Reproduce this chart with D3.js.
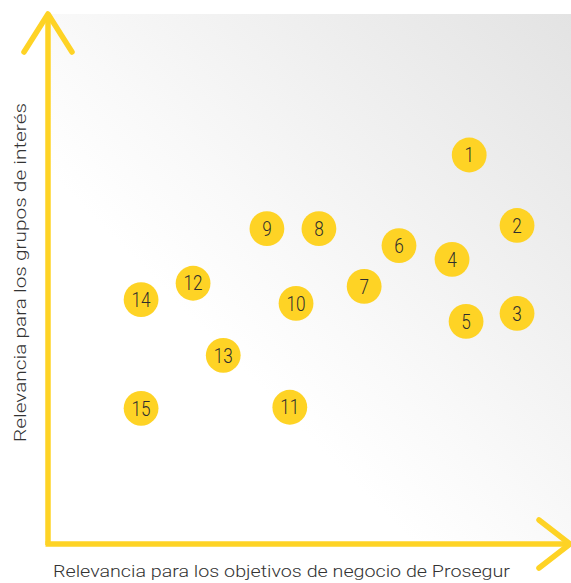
<!DOCTYPE html>
<html>
<head>
<meta charset="utf-8">
<script src="https://cdn.jsdelivr.net/npm/d3@7"></script>
<style>
  html, body { margin: 0; padding: 0; background: #fff; }
  svg { display: block; }
</style>
</head>
<body>
<svg id="chart" width="571" height="583"></svg>
<script>
// Data (values on a 0–10 relevance scale)
const labels = ["1","2","3","4","5","6","7","8","9","10","11","12","13","14","15"];
const businessRelevance = [8.10, 9.02, 9.02, 7.77, 8.04, 6.75, 6.08, 5.21, 4.21, 4.77, 4.65, 2.79, 3.37, 1.79, 1.79];
const stakeholderRelevance = [7.34, 6.01, 4.35, 5.37, 4.20, 5.63, 4.86, 5.95, 5.95, 4.54, 2.58, 4.92, 3.56, 4.61, 2.56];
const xAxisTitle = "Relevancia para los objetivos de negocio de Prosegur";
const yAxisTitle = "Relevancia para los grupos de interés";

(function () {
const svg = d3.select("#chart");
const mLeft = 48, mRight = 568, mTop = 14, mBottom = 544;
const x = d3.scaleLinear().domain([0, 10]).range([mLeft, mRight]);
const y = d3.scaleLinear().domain([0, 10]).range([mBottom, mTop]);

const yellow = "#fed325";

// background gradient
const defs = svg.append("defs");
const grad = defs.append("linearGradient").attr("id", "bg")
  .attr("x1", "100%").attr("y1", "0%").attr("x2", "0%").attr("y2", "100%");
grad.append("stop").attr("offset", "0%").attr("stop-color", "#e3e3e3");
grad.append("stop").attr("offset", "25%").attr("stop-color", "#eeeeee");
grad.append("stop").attr("offset", "50%").attr("stop-color", "#f9f9f9");
grad.append("stop").attr("offset", "65%").attr("stop-color", "#ffffff");
grad.append("stop").attr("offset", "100%").attr("stop-color", "#ffffff");

svg.append("rect")
  .attr("x", mLeft).attr("y", mTop)
  .attr("width", 571 - mLeft).attr("height", mBottom - mTop)
  .attr("fill", "url(#bg)");

// axes (arrows)
const axisG = svg.append("g")
  .attr("stroke", yellow).attr("stroke-width", 5.5).attr("fill", "none")
  .attr("stroke-linecap", "round").attr("stroke-linejoin", "round");
axisG.append("path").attr("d", `M${mLeft},${mBottom + 1} L${mLeft},${mTop}`).attr("stroke-linecap", "butt");
axisG.append("path").attr("d", `M${mLeft - 24},${mTop + 38} L${mLeft},${mTop} L${mLeft + 24},${mTop + 38}`);
axisG.append("path").attr("d", `M${mLeft - 2.5},${mBottom} L570,${mBottom}`).attr("stroke-linecap", "butt");
axisG.append("path").attr("d", `M539,${mBottom - 24} L570,${mBottom} L539,${mBottom + 24}`);

// points
const data = labels.map((l, i) => ({ label: l, bx: businessRelevance[i], sy: stakeholderRelevance[i] }));
const pts = svg.append("g").selectAll("g").data(data).join("g")
  .attr("transform", d => `translate(${x(d.bx)},${y(d.sy)})`);
pts.append("circle").attr("r", 17.4).attr("fill", yellow);
pts.append("text")
  .attr("text-anchor", "middle").attr("dy", "0.36em")
  .attr("transform", "scale(0.86,1)")
  .attr("font-family", "Roboto, 'DejaVu Sans', sans-serif")
  .attr("font-weight", 300)
  .attr("font-size", 20)
  .attr("fill", "#2e2e2e")
  .text(d => d.label);

// axis titles
svg.append("text")
  .attr("x", 53).attr("y", 577)
  .attr("font-family", "Roboto, 'DejaVu Sans', sans-serif")
  .attr("font-weight", 300).attr("font-size", 17).attr("fill", "#333")
  .attr("textLength", 457).attr("lengthAdjust", "spacingAndGlyphs")
  .text(xAxisTitle);

svg.append("text")
  .attr("transform", "translate(26,442) rotate(-90)")
  .attr("font-family", "Roboto, 'DejaVu Sans', sans-serif")
  .attr("font-weight", 300).attr("font-size", 17).attr("fill", "#333")
  .attr("textLength", 339).attr("lengthAdjust", "spacingAndGlyphs")
  .text(yAxisTitle);
})();
</script>
</body>
</html>
